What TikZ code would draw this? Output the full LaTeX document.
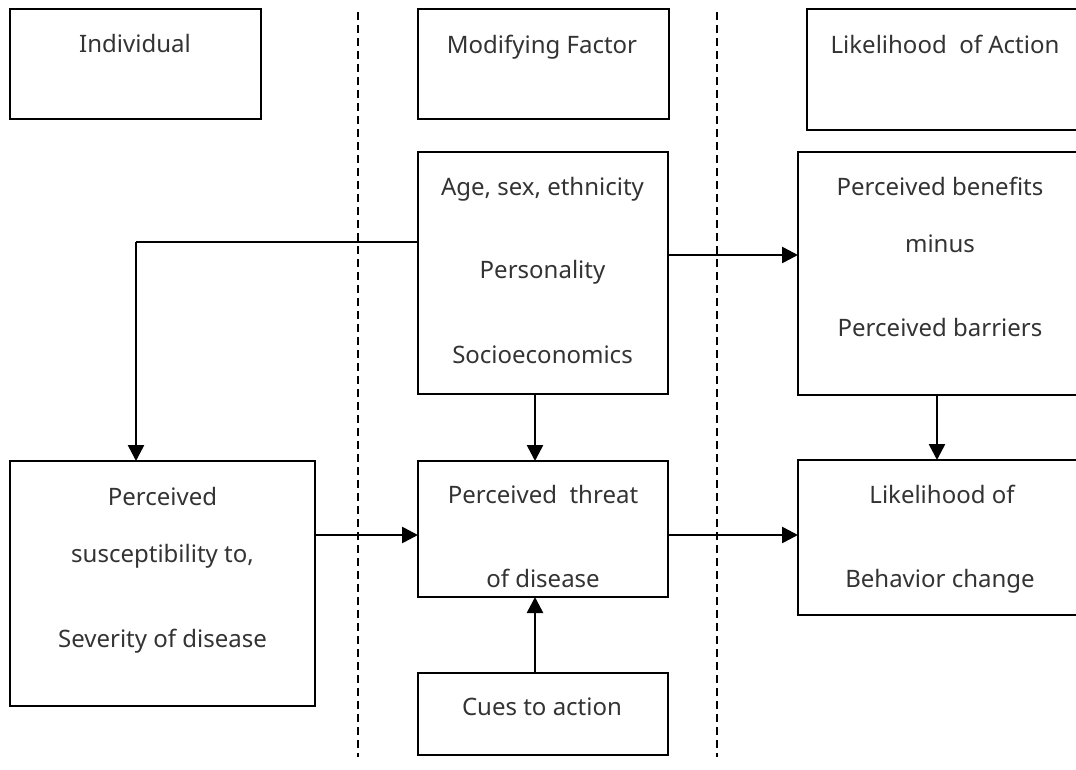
\documentclass[tikz,border=0pt]{standalone}
\usepackage{fontspec}
\setmainfont{Noto Sans}
\usetikzlibrary{arrows.meta}
\begin{document}
\begin{tikzpicture}[x=1pt,y=-1pt,
  box/.style={draw=black,line width=2pt,inner sep=0pt,outer sep=0pt,fill=none},
  txt/.style={anchor=base,inner sep=0pt,font=\fontsize{24}{28}\selectfont,text=black!80},
  arr/.style={line width=2.6pt,-{Triangle[length=16pt,width=16pt]}},
  sep/.style={line width=1.8pt,dash pattern=on 8pt off 5pt}]
\useasboundingbox (0,0) rectangle (1076,769);
\clip (0,0) rectangle (1076,769);
% separators
\draw[sep] (358,12) -- (358,757);
\draw[sep] (717,12) -- (717,757);
% header boxes
\node[box,minimum width=251pt,minimum height=110pt] (ind) at (135.5,64) {};
\node[box,minimum width=251pt,minimum height=110pt] (mod) at (543.5,64) {};
\node[box,minimum width=290pt,minimum height=121pt] (loa) at (952,69.5) {};
\node[txt] (tind) at (135,52) {Individual};
\node[txt] (tmod) at (542,53) {Modifying Factor};
\node[txt] (tloa) at (945,53) {Likelihood\ \ of Action};
% main boxes
\node[box,minimum width=250pt,minimum height=242pt] (age) at (543,273) {};
\node[txt] (a1) at (542.5,195) {Age, sex, ethnicity};
\node[txt] (a2) at (542.5,278) {Personality};
\node[txt] (a3) at (542.5,363) {Socioeconomics};
\node[box,minimum width=290pt,minimum height=243pt] (ben) at (943,273.5) {};
\node[txt] (b1) at (940,195) {Perceived benefits};
\node[txt] (b2) at (940,252) {minus};
\node[txt] (b3) at (940,336) {Perceived barriers};
\node[box,minimum width=305pt,minimum height=245pt] (sus) at (162.5,583.5) {};
\node[txt] (s1) at (162.5,505) {Perceived};
\node[txt] (s2) at (162.5,562) {susceptibility to,};
\node[txt] (s3) at (162.5,647) {Severity of disease};
\node[box,minimum width=250pt,minimum height=136pt] (thr) at (543,529) {};
\node[txt] (t1) at (543,503) {Perceived\ \ threat};
\node[txt] (t2) at (543,587) {of disease};
\node[box,minimum width=290pt,minimum height=155pt] (lbc) at (943,537.5) {};
\node[txt] (l1) at (942,503) {Likelihood of};
\node[txt] (l2) at (940,587) {Behavior change};
\node[box,minimum width=250pt,minimum height=82pt] (cue) at (543,714) {};
\node[txt] (c1) at (542,715) {Cues to action};
% connector guides
\coordinate (yA) at (0,242);
\coordinate (xA) at (136,0);
\coordinate (yB) at (0,255);
\coordinate (xM) at (535,0);
\coordinate (xR) at (937,0);
\coordinate (yT) at (0,535);
% connectors
\draw[line width=2.6pt] (age.west |- yA) -- (xA |- yA);
\draw[arr] (xA |- yA) -- (xA |- sus.north);
\draw[arr] (age.east |- yB) -- (ben.west |- yB);
\draw[arr] (xM |- age.south) -- (xM |- thr.north);
\draw[arr] (xR |- ben.south) -- (xR |- lbc.north);
\draw[arr] (sus.east |- yT) -- (thr.west |- yT);
\draw[arr] (thr.east |- yT) -- (lbc.west |- yT);
\draw[arr] (xM |- cue.north) -- (xM |- thr.south);
\end{tikzpicture}
\end{document}
